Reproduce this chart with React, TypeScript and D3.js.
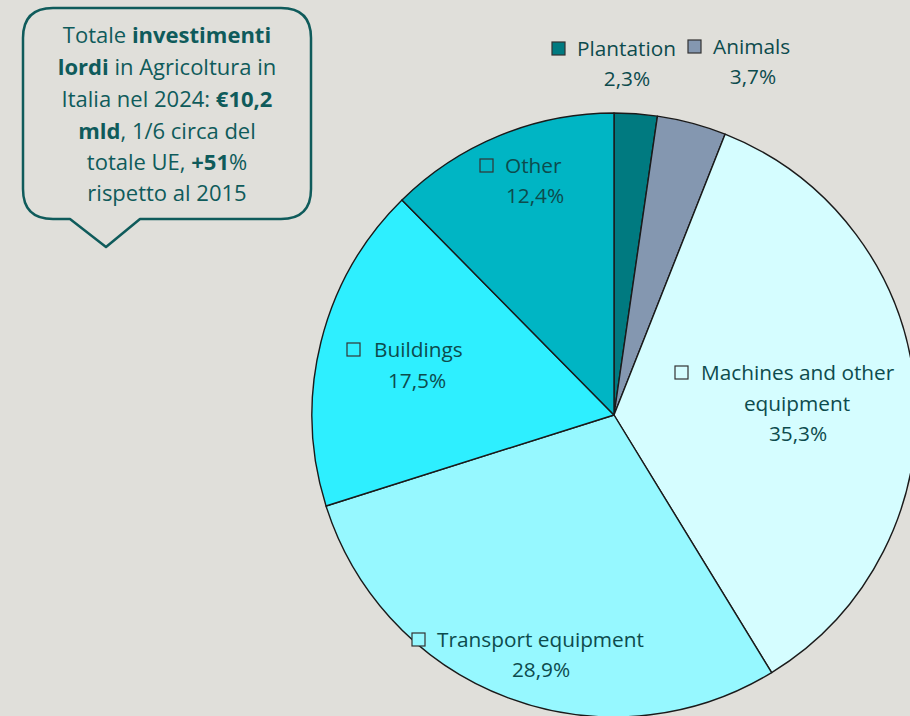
import React from "react";
import * as d3 from "d3";

const width = 910;
const height = 716;

// slices, clockwise from 12 o'clock
const categories = ["Plantation", "Animals", "Machines and other equipment", "Transport equipment", "Buildings", "Other"];
const shares = [2.3, 3.7, 35.3, 28.9, 17.5, 12.4];
const valueLabels = ["2,3%", "3,7%", "35,3%", "28,9%", "17,5%", "12,4%"];
const colors = ["#007a80", "#8497b0", "#d5fdff", "#96f8ff", "#2eefff", "#00b5c4"];

// label layout: square position, name lines, value line center (manual placement as in the source)
const labelLayout = [
  { sx: 552, sy: 42, lines: [{ x: 577, y: 56, anchor: "start" }], vx: 627, vy: 86 },
  { sx: 688, sy: 40, lines: [{ x: 713, y: 54, anchor: "start" }], vx: 753, vy: 84 },
  { sx: 675, sy: 366, lines: [{ x: 701, y: 380, anchor: "start" }, { x: 797, y: 411, anchor: "middle" }], vx: 798, vy: 441 },
  { sx: 412, sy: 633, lines: [{ x: 437, y: 647, anchor: "start" }], vx: 541, vy: 677 },
  { sx: 347, sy: 343, lines: [{ x: 374, y: 357, anchor: "start" }], vx: 417, vy: 388 },
  { sx: 480, sy: 159, lines: [{ x: 505, y: 173, anchor: "start" }], vx: 535, vy: 203 },
];
const nameLines = [["Plantation"], ["Animals"], ["Machines and other", "equipment"], ["Transport equipment"], ["Buildings"], ["Other"]];

const cx = 614;
const cy = 415;
const radius = 302;

const textColor = "#0d4b4d";
const calloutColor = "#0f5b5b";
const font = "'Open Sans', 'Noto Sans', sans-serif";

const App = () => {
  const pie = d3.pie<number>().value((d) => d).sort(null);
  const arcs = pie(shares);
  const arcGen = d3.arc<d3.PieArcDatum<number>>().innerRadius(0).outerRadius(radius);

  // callout box shape
  const bx0 = 23, by0 = 8, bx1 = 311, by1 = 219, r = 30;
  const px0 = 70, px1 = 140, pax = 106, pay = 247;
  const callout = `M${bx0 + r},${by0} H${bx1 - r} Q${bx1},${by0} ${bx1},${by0 + r} V${by1 - r} Q${bx1},${by1} ${bx1 - r},${by1} H${px1} L${pax},${pay} L${px0},${by1} H${bx0 + r} Q${bx0},${by1} ${bx0},${by1 - r} V${by0 + r} Q${bx0},${by0} ${bx0 + r},${by0} Z`;

  const tx = 167;
  const fs = 22;

  return (
    <div style={{ position: "absolute", left: 0, top: 0 }}>
      <svg width={width} height={height} style={{ display: "block" }}>
        <rect width={width} height={height} fill="#e0dfda" />
        <g transform={`translate(${cx},${cy})`}>
          {arcs.map((a, i) => (
            <path key={i} d={arcGen(a) || ""} fill={colors[i]} stroke="#1a1a1a" strokeWidth={1.4} strokeLinejoin="round" />
          ))}
        </g>

        {labelLayout.map((l, i) => (
          <g key={i} fontFamily={font} fontSize={20.8} fill={textColor}>
            <rect x={l.sx} y={l.sy} width={13} height={13} fill={colors[i]} stroke="#333" strokeWidth={1.2} />
            {nameLines[i].map((t, j) => (
              <text key={j} x={l.lines[j].x} y={l.lines[j].y} textAnchor={l.lines[j].anchor}>{t}</text>
            ))}
            <text x={l.vx} y={l.vy} textAnchor="middle">{valueLabels[i]}</text>
          </g>
        ))}

        <path d={callout} fill="#e0dfda" stroke={calloutColor} strokeWidth={2.5} strokeLinejoin="round" />
        <g fontFamily={font} fontSize={fs} fill={calloutColor} textAnchor="middle">
          <text x={tx} y={43}>Totale <tspan fontWeight="bold">investimenti</tspan></text>
          <text x={tx} y={75}><tspan fontWeight="bold">lordi</tspan> in Agricoltura in</text>
          <text x={tx} y={107}>Italia nel 2024: <tspan fontWeight="bold">€10,2</tspan></text>
          <text x={tx} y={139}><tspan fontWeight="bold">mld</tspan>, 1/6 circa del</text>
          <text x={tx} y={170}>totale UE, <tspan fontWeight="bold">+51</tspan>%</text>
          <text x={tx} y={201}>rispetto al 2015</text>
        </g>
      </svg>
    </div>
  );
};

export default App;
